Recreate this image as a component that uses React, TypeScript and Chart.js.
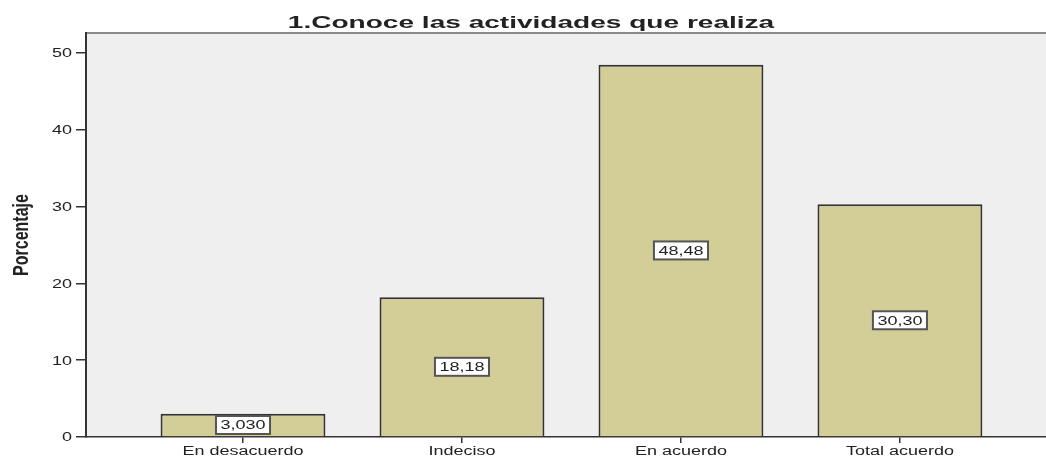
import React, { useEffect, useRef } from "react";
import { Chart, registerables } from "chart.js";

Chart.register(...registerables);

const chartTitle = "1.Conoce las actividades que realiza";
const yAxisTitle = "Porcentaje";
const categories = ["En desacuerdo", "Indeciso", "En acuerdo", "Total acuerdo"];
const categoryPositions = [0, 1, 2, 3];
const percentages = [3.03, 18.18, 48.48, 30.3];
const valueLabels = ["3,030", "18,18", "48,48", "30,30"];
const yTickValues = [0, 10, 20, 30, 40, 50];

const STRETCH = 1.5;
const TEXT_COLOR = "#222222";

function stretchedText(
  ctx: CanvasRenderingContext2D,
  text: string,
  x: number,
  y: number,
  align: CanvasTextAlign,
  baseline: CanvasTextBaseline,
  font: string,
  stretch: number = STRETCH
) {
  ctx.save();
  ctx.font = font;
  ctx.fillStyle = TEXT_COLOR;
  ctx.textAlign = align;
  ctx.textBaseline = baseline;
  ctx.translate(x, y);
  ctx.scale(stretch, 1);
  ctx.fillText(text, 0, 0);
  ctx.restore();
}

const spssPlugin = {
  id: "spssLook",
  beforeDraw(chart: any) {
    const { ctx, chartArea } = chart;
    ctx.save();
    ctx.fillStyle = "#efefef";
    ctx.fillRect(chartArea.left, chartArea.top, chartArea.right - chartArea.left, chartArea.bottom - chartArea.top);
    ctx.strokeStyle = "#8a8a8a";
    ctx.lineWidth = 2;
    ctx.beginPath();
    ctx.moveTo(chartArea.left, chartArea.top);
    ctx.lineTo(chartArea.right, chartArea.top);
    ctx.stroke();
    ctx.restore();
  },
  afterDraw(chart: any) {
    const { ctx, chartArea } = chart;
    const xs = chart.scales.x;
    const ys = chart.scales.y;
    const font = "12px 'Liberation Sans', Arial, sans-serif";

    // title
    stretchedText(ctx, chartTitle, chart.width / 2 + 8, chartArea.top - 5, "center", "alphabetic",
      "bold 17px 'Liberation Sans', Arial, sans-serif", 1.65);

    // y tick labels
    yTickValues.forEach((v) => {
      stretchedText(ctx, String(v), chartArea.left - 14, ys.getPixelForValue(v) + 1, "right", "middle", font);
    });

    // x tick labels
    categories.forEach((c, i) => {
      stretchedText(ctx, c, xs.getPixelForValue(categoryPositions[i]), chartArea.bottom + 18, "center", "alphabetic", font);
    });

    // y axis title (rotated, stretched along image x)
    ctx.save();
    ctx.font = "bold 16px 'Liberation Sans', Arial, sans-serif";
    ctx.fillStyle = TEXT_COLOR;
    ctx.textAlign = "center";
    ctx.textBaseline = "middle";
    ctx.translate(22, (chartArea.top + chartArea.bottom) / 2);
    ctx.scale(1.35, 1);
    ctx.rotate(-Math.PI / 2);
    ctx.fillText(yAxisTitle, 0, 0);
    ctx.restore();

    // value labels
    const meta = chart.getDatasetMeta(0);
    meta.data.forEach((bar: any, i: number) => {
      const cx = bar.x;
      const cy = (bar.y + bar.base) / 2;
      ctx.save();
      ctx.font = font;
      const tw = ctx.measureText(valueLabels[i]).width * STRETCH;
      const w = tw + 9;
      const h = 18;
      ctx.fillStyle = "#ffffff";
      ctx.fillRect(cx - w / 2, cy - h / 2, w, h);
      ctx.strokeStyle = "#555555";
      ctx.lineWidth = 2;
      ctx.strokeRect(cx - w / 2, cy - h / 2, w, h);
      ctx.restore();
      stretchedText(ctx, valueLabels[i], cx, cy + 1, "center", "middle", font);
    });
  },
};

export default function App() {
  const canvasRef = useRef<HTMLCanvasElement | null>(null);

  useEffect(() => {
    document.body.style.margin = "0";
    const canvas = canvasRef.current;
    if (!canvas) return;
    const chart = new Chart(canvas, {
      type: "bar",
      data: {
        datasets: [
          {
            data: percentages.map((v, i) => ({ x: categoryPositions[i], y: v })),
            backgroundColor: "#d3cd98",
            borderColor: "#333333",
            borderWidth: 2,
            barPercentage: 0.753,
            categoryPercentage: 1,
          },
        ],
      },
      options: {
        animation: false,
        responsive: false,
        maintainAspectRatio: false,
        layout: { padding: { left: 76, top: 33, right: 0, bottom: 14 } },
        plugins: {
          legend: { display: false },
          title: { display: false },
          tooltip: { enabled: false },
        },
        scales: {
          x: {
            type: "linear",
            min: -0.717,
            max: 3.667,
            offset: false,
            afterBuildTicks: (scale: any) => {
              scale.ticks = categoryPositions.map((v) => ({ value: v }));
            },
            ticks: { display: false },
            grid: {
              offset: false,
              drawOnChartArea: false,
              drawTicks: true,
              tickLength: 6,
              color: "#333333",
              lineWidth: 1.5,
            },
            border: { display: true, color: "#333333", width: 1.5 },
          },
          y: {
            type: "linear",
            min: 0,
            max: 52.6,
            afterBuildTicks: (scale: any) => {
              scale.ticks = yTickValues.map((v) => ({ value: v }));
            },
            ticks: { display: false },
            grid: {
              drawOnChartArea: false,
              drawTicks: true,
              tickLength: 10,
              color: "#333333",
              lineWidth: 1.5,
            },
            border: { display: true, color: "#333333", width: 2 },
          },
        },
      },
      plugins: [spssPlugin],
    } as any);
    return () => chart.destroy();
  }, []);

  return (
    <div style={{ width: 1046, height: 457 }}>
      <canvas ref={canvasRef} width={1046} height={457} style={{ display: "block" }} />
    </div>
  );
}
